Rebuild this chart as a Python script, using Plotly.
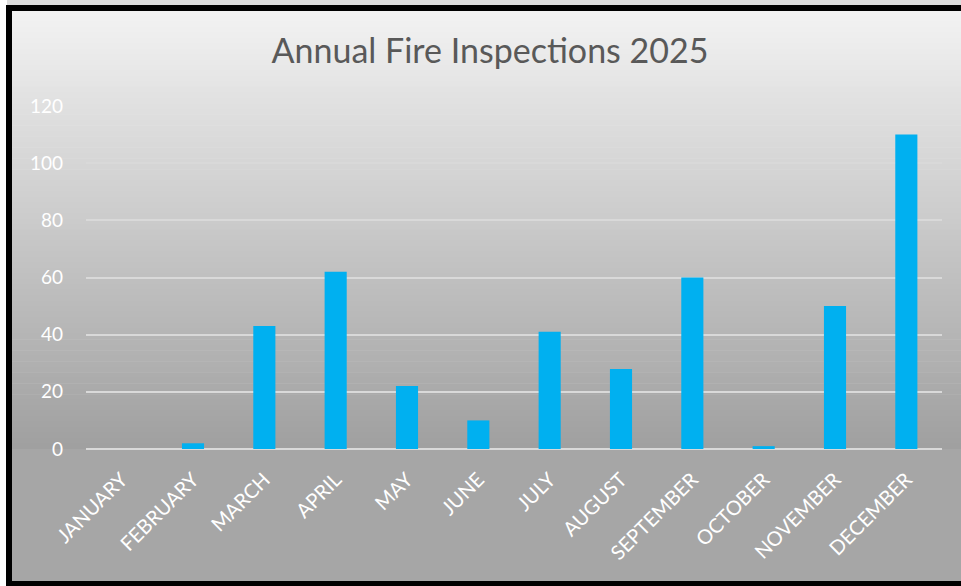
import plotly.graph_objects as go

months = ["JANUARY", "FEBRUARY", "MARCH", "APRIL", "MAY", "JUNE", "JULY",
          "AUGUST", "SEPTEMBER", "OCTOBER", "NOVEMBER", "DECEMBER"]
inspections = [0, 2, 43, 62, 22, 10, 41, 28, 60, 1, 50, 110]
y_ticks = [0, 20, 40, 60, 80, 100, 120]

W, H = 961, 586
L, R, T, B = 86, 19, 106, 137
pw, ph = W - L - R, H - T - B


def px_x(px):
    return (px - L) / pw


def px_y(py):
    return (H - B - py) / ph


def lerp(c1, c2, t):
    return tuple(round(a + (b - a) * t) for a, b in zip(c1, c2))


shapes = []
# gradient background
top_c = (242, 242, 242)
bot_c = (160, 160, 160)
y0p, y1p = 10, 449
n = 80
for i in range(n):
    a = y0p + (y1p - y0p) * i / n
    b = y0p + (y1p - y0p) * (i + 1) / n + 0.6
    c = lerp(top_c, bot_c, i / (n - 1))
    shapes.append(dict(type="rect", xref="paper", yref="paper", layer="below",
                       x0=px_x(0), x1=px_x(W), y0=px_y(b), y1=px_y(a),
                       fillcolor="rgb(%d,%d,%d)" % c, line=dict(width=0)))
shapes.append(dict(type="rect", xref="paper", yref="paper", layer="below",
                   x0=px_x(0), x1=px_x(W), y0=px_y(H), y1=px_y(449),
                   fillcolor="#a6a6a6", line=dict(width=0)))
# outer strips
shapes.append(dict(type="rect", xref="paper", yref="paper", layer="below",
                   x0=px_x(0), x1=px_x(W), y0=px_y(6), y1=px_y(0),
                   fillcolor="#dcdcdc", line=dict(width=0)))
shapes.append(dict(type="rect", xref="paper", yref="paper", layer="below",
                   x0=px_x(0), x1=px_x(7), y0=px_y(H), y1=px_y(0),
                   fillcolor="#ffffff", line=dict(width=0)))
# border (left, top, bottom)
for (xa, ya, xb, yb) in [(9, 5, 9, 586), (6, 8, W, 8), (6, 584, W, 584)]:
    shapes.append(dict(type="line", xref="paper", yref="paper", layer="above",
                       x0=px_x(xa), y0=px_y(ya), x1=px_x(xb), y1=px_y(yb),
                       line=dict(color="black", width=6)))

fig = go.Figure(go.Bar(x=months, y=inspections, marker_color="#00B0F0",
                       marker_line_width=0, width=0.31))

fig.update_layout(
    width=W, height=H,
    margin=dict(l=L, r=R, t=T, b=B, pad=0),
    paper_bgcolor="white", plot_bgcolor="rgba(0,0,0,0)",
    font=dict(family="Lato", color="white"),
    title=dict(text="Annual Fire Inspections 2025", x=490 / W, xanchor="center",
               xref="container", y=1 - 51 / H, yanchor="middle",
               font=dict(family="Lato", size=34, color="#595959")),
    shapes=shapes,
    showlegend=False,
    bargap=0.69,
)
fig.update_xaxes(tickangle=-45, tickfont=dict(size=20, color="white"),
                 showgrid=False, showline=False, ticks="", zeroline=False,
                 ticklabelstandoff=14)
fig.update_yaxes(range=[0, 120], tickvals=y_ticks, ticktext=[str(v) for v in y_ticks],
                 tickfont=dict(size=19, color="white"), showgrid=True,
                 gridcolor="#d9d9d9", gridwidth=1.5, zeroline=True,
                 zerolinecolor="#d9d9d9", zerolinewidth=2, ticks="",
                 ticklabelstandoff=22)

fig.write_html("out.html", config={"displayModeBar": False},
               post_script="document.body.style.margin='0';document.body.style.overflow='hidden';")
